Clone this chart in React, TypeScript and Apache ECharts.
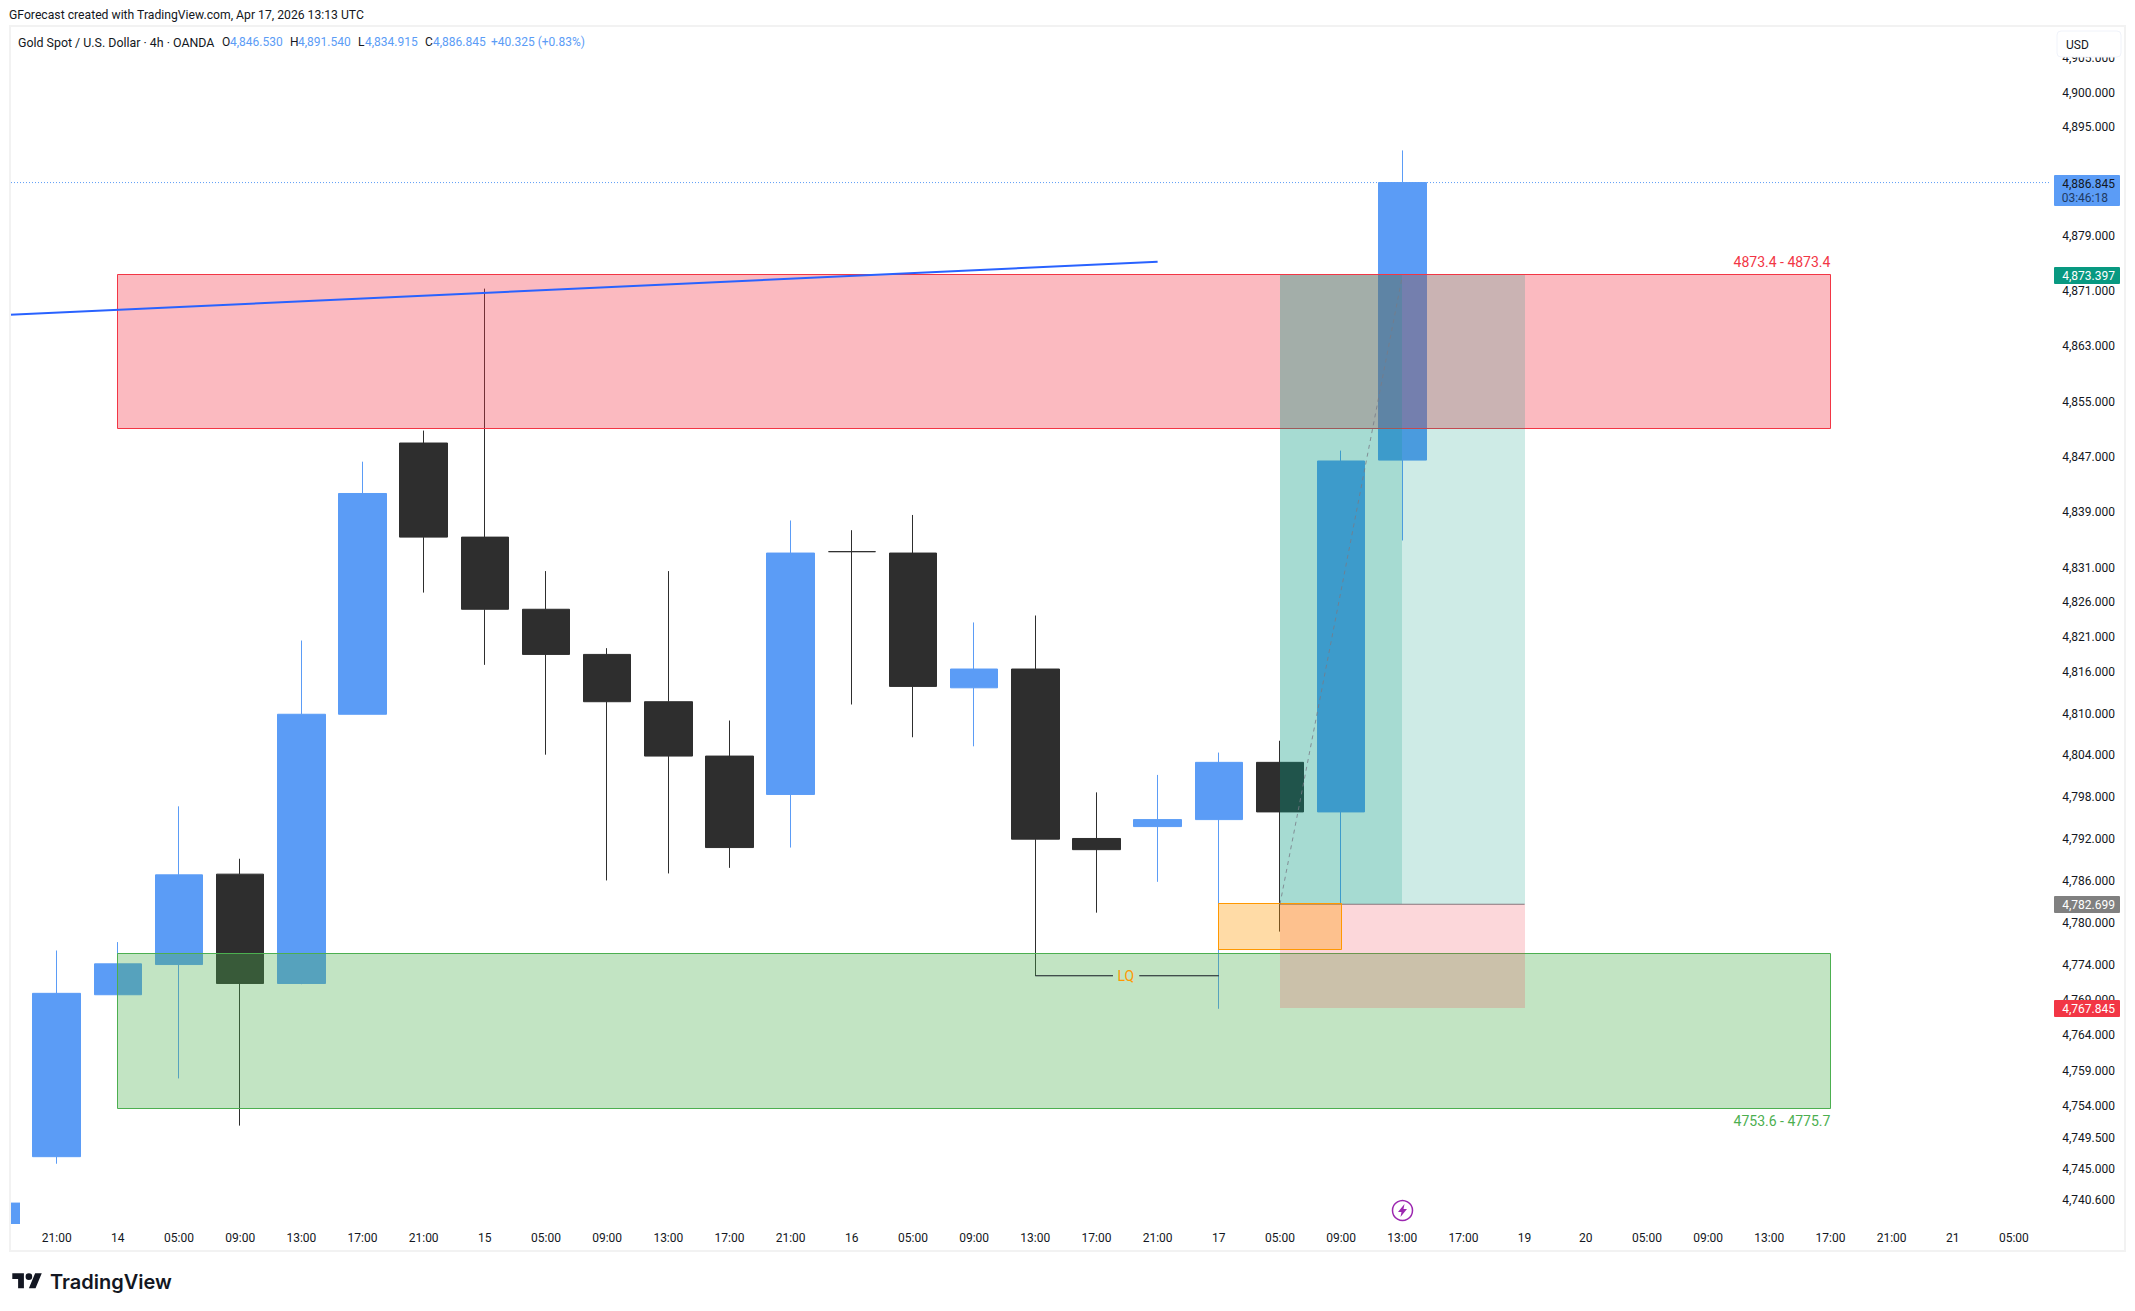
import { useEffect, useRef } from 'react';
import * as echarts from 'echarts';

const FONT = 'Roboto, sans-serif';
const BLUE = '#5b9cf6';
const DARK = '#2e2e2e';
const TEXT = '#131722';

const timeLabels = ['21:00', '14', '05:00', '09:00', '13:00', '17:00', '21:00', '15', '05:00', '09:00', '13:00', '17:00', '21:00', '16', '05:00', '09:00', '13:00', '17:00', '21:00', '17', '05:00', '09:00', '13:00', '17:00', '19', '20', '05:00', '09:00', '13:00', '17:00', '21:00', '21', '05:00'];

const priceTicks = [4905, 4900, 4895, 4879, 4871, 4863, 4855, 4847, 4839, 4831, 4826, 4821, 4816, 4810, 4804, 4798, 4792, 4786, 4780, 4774, 4769, 4764, 4759, 4754, 4749.5, 4745, 4740.6];

// bar index, open, close, low, high
const candles = [
  [0, 4746.8, 4770.0, 4745.8, 4776.1],
  [1, 4769.8, 4774.2, 4769.8, 4777.3],
  [2, 4774.1, 4786.9, 4757.9, 4796.7],
  [3, 4787.0, 4771.4, 4751.2, 4789.2],
  [4, 4771.4, 4809.9, 4771.3, 4820.5],
  [5, 4809.9, 4841.7, 4809.9, 4846.3],
  [6, 4849.0, 4835.4, 4827.4, 4850.8],
  [7, 4835.4, 4825.0, 4817.0, 4871.4],
  [8, 4825.0, 4818.5, 4804.1, 4830.5],
  [9, 4818.5, 4811.7, 4786.1, 4819.4],
  [10, 4811.7, 4803.9, 4787.1, 4830.5],
  [11, 4803.9, 4790.8, 4787.9, 4809.0],
  [12, 4798.4, 4833.1, 4790.8, 4837.8],
  [13, 4833.3, 4833.3, 4811.3, 4836.4],
  [14, 4833.1, 4813.9, 4806.6, 4838.6],
  [15, 4813.7, 4816.4, 4805.3, 4823.1],
  [16, 4816.4, 4792.0, 4772.5, 4824.1],
  [17, 4792.1, 4790.5, 4781.5, 4798.7],
  [18, 4793.8, 4794.8, 4785.9, 4801.2],
  [19, 4794.8, 4803.0, 4767.8, 4804.4],
  [20, 4803.0, 4795.9, 4778.8, 4806.1],
  [21, 4795.9, 4846.4, 4782.8, 4847.9],
  [22, 4846.53, 4886.845, 4834.915, 4891.54],
];

// the bar before the first one: only its right edge is on the chart
const cutOffCandle = [-1, 4740.3, 4730];

// zones: first bar, last bar, top price, bottom price
const redZone = [1, 29, 4873.4, 4851.1];
const greenZone = [1, 29, 4775.7, 4753.6];
const profitZone = [20, 24, 4873.397, 4782.699];
const profitRunZone = [20, 22, 4873.397, 4782.699];
const stopZone = [20, 24, 4782.699, 4767.845];
const sweepZone = [19, 21, 4782.8, 4776.3];

const trendLine = [[-1, 4867.5], [18, 4875.3]];
const tradePath = [[20, 4782.7], [22, 4873.2]];
const entryLine = [[20, 4782.699], [24, 4782.699]];
const lqLine = [[16, 4772.5], [17.27, 4772.5], [null, null], [17.7, 4772.5], [19, 4772.5]];
const lastPrice = 4886.845;

const X_MIN = -0.747;
const X_MAX = 32.59;
const Y_MIN = 4737.27;
const Y_MAX = 4909.59;

const formatPrice = (v: number) => v.toFixed(3).replace(/\B(?=(\d{3})+(?!\d))(?=.*\.)/g, ',');

echarts.graphic.registerShape(
  'tvLogo',
  echarts.graphic.extendPath('M14 25H7V14H0V7h14v18zM28 25h-8l7.5-18h8L28 25zM24 11a4 4 0 1 1-8 0a4 4 0 1 1 8 0z', {}) as any
);

const zoneSeries = (zone: number[], z: number, fill: string, stroke?: string) => ({
  type: 'custom',
  z,
  silent: true,
  data: [zone],
  encode: { x: [0, 1], y: [2, 3] },
  renderItem: (_p: any, api: any) => {
    const a = api.coord([api.value(0), api.value(2)]);
    const b = api.coord([api.value(1), api.value(3)]);
    const x = stroke ? Math.floor(a[0]) + 0.5 : Math.round(a[0]);
    const y = stroke ? Math.floor(a[1]) + 0.5 : Math.round(a[1]);
    const x2 = stroke ? Math.floor(b[0]) + 0.5 : Math.round(b[0]);
    const y2 = stroke ? Math.floor(b[1]) + 0.5 : Math.round(b[1]);
    return {
      type: 'rect',
      shape: { x, y, width: x2 - x, height: y2 - y },
      style: { fill, stroke: stroke || 'none', lineWidth: 1 },
    };
  },
});

const cutOffSeries = {
  type: 'custom',
  z: 2,
  silent: true,
  data: [cutOffCandle],
  encode: { x: 0, y: [1, 2] },
  renderItem: (params: any, api: any) => {
    const top = api.coord([api.value(0), api.value(1)]);
    const bottom = api.coord([api.value(0), api.value(2)]);
    const shape = echarts.graphic.clipRectByRect(
      { x: top[0] - 24.5, y: top[1], width: 49, height: bottom[1] - top[1] },
      params.coordSys
    );
    return shape && { type: 'rect', shape, style: { fill: BLUE } };
  },
};

const lineSeries = (data: any[], z: number, color: string, width: number, type: any = 'solid') => ({
  type: 'line',
  z,
  silent: true,
  data,
  symbol: 'none',
  connectNulls: false,
  lineStyle: { color, width, type },
});

const noteSeries = (bar: number, price: number, text: string, color: string, align: string) => ({
  type: 'custom',
  z: 8,
  silent: true,
  data: [[bar, price]],
  encode: { x: 0, y: 1 },
  renderItem: (_p: any, api: any) => {
    const p = api.coord([api.value(0), api.value(1)]);
    return {
      type: 'text',
      x: p[0],
      y: p[1],
      style: { text, fill: color, align, verticalAlign: 'middle', font: `14px ${FONT}` },
    };
  },
});

const tagSeries = (price: number, bg: string, color: string, subText?: string) => ({
  type: 'custom',
  z: 20,
  silent: true,
  data: [[X_MAX, price]],
  encode: { x: 0, y: 1 },
  renderItem: (_p: any, api: any) => {
    const p = api.coord([api.value(0), api.value(1)]);
    const y = Math.round(p[1]);
    const children: any[] = [
      { type: 'rect', shape: { x: 2054, y: y - 8, width: 66, height: subText ? 31 : 17, r: 1 }, style: { fill: bg } },
      {
        type: 'text',
        x: 2115,
        y: y + 0.5,
        style: { text: formatPrice(price), fill: color, align: 'right', verticalAlign: 'middle', font: `12px ${FONT}` },
      },
    ];
    if (subText) {
      children.push({
        type: 'text',
        x: 2115 - 7,
        y: y + 14.5,
        style: { text: subText, fill: '#1f3a63', align: 'right', verticalAlign: 'middle', font: `12px ${FONT}` },
      });
    }
    return { type: 'group', children };
  },
});

const headerText = (x: number, y: number, text: string, fill: string, size = 12) => ({
  type: 'text',
  x,
  y,
  z: 30,
  style: { text, fill, font: `${size}px ${FONT}`, verticalAlign: 'middle' },
});

const App = () => {
  const chartRef = useRef<HTMLDivElement>(null);

  useEffect(() => {
    if (!chartRef.current) return;

    const myChart = echarts.init(chartRef.current, undefined, { renderer: 'svg' });

    const option = {
      animation: false,
      backgroundColor: '#ffffff',
      grid: { left: 11, top: 27, width: 2039, height: 1197 },
      xAxis: {
        type: 'value',
        min: X_MIN,
        max: X_MAX,
        axisLine: { show: false },
        axisTick: { show: false },
        splitLine: { show: false },
        axisLabel: {
          customValues: timeLabels.map((_, i) => i),
          formatter: (v: number) => timeLabels[v],
          color: TEXT,
          fontFamily: FONT,
          fontSize: 12,
          margin: 8,
        },
      },
      yAxis: {
        type: 'log',
        position: 'right',
        min: Y_MIN,
        max: Y_MAX,
        axisLine: { show: false },
        axisTick: { show: false },
        splitLine: { show: false },
        axisLabel: {
          customValues: priceTicks,
          formatter: (v: number) => formatPrice(v),
          color: TEXT,
          fontFamily: FONT,
          fontSize: 12,
          align: 'right',
          margin: 65,
        },
      },
      series: [
        lineSeries([[X_MIN, lastPrice], [X_MAX, lastPrice]], 1, BLUE, 1, [1, 2]),
        cutOffSeries,
        {
          type: 'candlestick',
          z: 2,
          silent: true,
          barWidth: 48,
          encode: { x: 0, y: [1, 2, 3, 4] },
          data: candles,
          itemStyle: {
            color: BLUE,
            color0: DARK,
            borderColor: BLUE,
            borderColor0: DARK,
            borderColorDoji: DARK,
            borderWidth: 1,
          },
        },
        zoneSeries(redZone, 3, 'rgba(242,54,69,0.34)', '#f23645'),
        zoneSeries(greenZone, 3, 'rgba(76,175,80,0.34)', '#4caf50'),
        zoneSeries(profitZone, 4, 'rgba(8,153,129,0.2)'),
        zoneSeries(stopZone, 4, 'rgba(242,54,69,0.2)'),
        zoneSeries(profitRunZone, 4, 'rgba(8,153,129,0.2)'),
        lineSeries(entryLine, 5, 'rgba(120,110,115,0.9)', 1),
        zoneSeries(sweepZone, 6, 'rgba(255,152,0,0.35)', '#ff9800'),
        lineSeries(tradePath, 7, 'rgba(120,123,134,0.8)', 1, [4, 4]),
        lineSeries(trendLine, 7, '#2962ff', 2),
        lineSeries(lqLine, 7, '#131722', 1),
        noteSeries(17.48, 4772.5, 'LQ', '#ff9800', 'center'),
        noteSeries(29, 4875.3, '4873.4 - 4873.4', '#f23645', 'right'),
        noteSeries(29, 4751.9, '4753.6 - 4775.7', '#4caf50', 'right'),
        tagSeries(lastPrice, BLUE, TEXT, '03:46:18'),
        tagSeries(4873.397, '#089981', '#ffffff'),
        tagSeries(4782.699, '#808080', '#ffffff'),
        tagSeries(4767.845, '#f23645', '#ffffff'),
      ],
      graphic: [
        { type: 'rect', z: 25, silent: true, shape: { x: 10, y: 26, width: 2115, height: 1225 }, style: { fill: 'none', stroke: '#f2f2f2', lineWidth: 2 } },
        { type: 'rect', z: 25, shape: { x: 2057, y: 31, width: 64, height: 26, r: 4 }, style: { fill: '#ffffff', stroke: '#f0f3fa', lineWidth: 1 } },
        headerText(2066, 44.5, 'USD', TEXT),
        headerText(9, 14.5, 'GForecast created with TradingView.com, Apr 17, 2026 13:13 UTC', TEXT, 12.2),
        headerText(18, 42, 'Gold Spot / U.S. Dollar \u00b7 4h \u00b7 OANDA', TEXT, 12.4),
        headerText(222, 42, 'O', TEXT),
        headerText(230, 42, '4,846.530', BLUE),
        headerText(290, 42, 'H', TEXT),
        headerText(298, 42, '4,891.540', BLUE),
        headerText(358, 42, 'L', TEXT),
        headerText(365, 42, '4,834.915', BLUE),
        headerText(425, 42, 'C', TEXT),
        headerText(433, 42, '4,886.845', BLUE),
        headerText(491, 42, '+40.325 (+0.83%)', BLUE),
        { type: 'circle', z: 30, shape: { cx: 1402.5, cy: 1210.5, r: 10 }, style: { fill: '#ffffff', stroke: '#9c27b0', lineWidth: 1.5 } },
        {
          type: 'polygon',
          z: 31,
          shape: { points: [[1404.5, 1204], [1398, 1212], [1401.5, 1212], [1400.5, 1217], [1407, 1209], [1403.5, 1209]] },
          style: { fill: '#9c27b0' },
        },
        { type: 'tvLogo', z: 30, x: 12.3, y: 1267.5, scaleX: 0.83, scaleY: 0.83, style: { fill: TEXT } },
        {
          type: 'text',
          x: 50,
          y: 1281.5,
          z: 30,
          style: { text: 'TradingView', fill: TEXT, font: `600 20px Inter, ${FONT}`, verticalAlign: 'middle' },
        },
      ],
    };

    myChart.setOption(option as any);

    return () => {
      myChart.dispose();
    };
  }, []);

  return (
    <div
      ref={chartRef}
      style={{ position: 'absolute', left: 0, top: 0, width: '2135px', height: '1311px' }}
    />
  );
};

export default App;
